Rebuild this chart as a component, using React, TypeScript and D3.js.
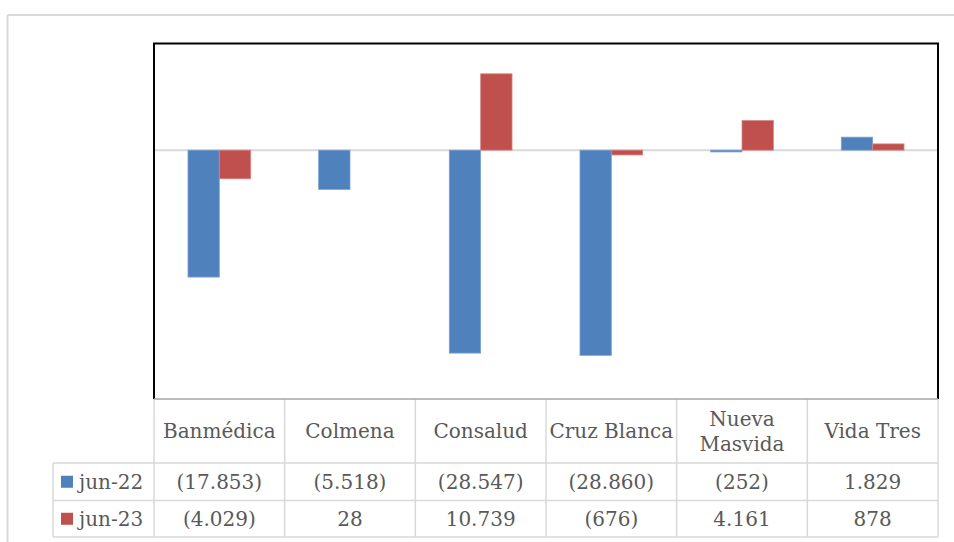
import * as d3 from 'd3'

const categories = ['Banmédica', 'Colmena', 'Consalud', 'Cruz Blanca', 'Nueva Masvida', 'Vida Tres']
const headerLines = [['Banmédica'], ['Colmena'], ['Consalud'], ['Cruz Blanca'], ['Nueva', 'Masvida'], ['Vida Tres']]
const series = ['jun-22', 'jun-23']
const jun22 = [-17853, -5518, -28547, -28860, -252, 1829]
const jun23 = [-4029, 28, 10739, -676, 4161, 878]
const jun22Labels = ['(17.853)', '(5.518)', '(28.547)', '(28.860)', '(252)', '1.829']
const jun23Labels = ['(4.029)', '28', '10.739', '(676)', '4.161', '878']
const colors = ['#4f81bd', '#c0504d']
const strokes = ['#7fa3d1', '#d88583']

export default function App() {
  const W = 954
  const H = 542
  const plot = { left: 154, right: 938, top: 43.5, bottom: 399 }
  const rows = [399, 463, 500.5, 537]
  const legendLeft = 53

  const x = d3.scaleBand<string>().domain(categories).range([plot.left, plot.right]).padding(0)
  const bw = x.bandwidth()
  const x1 = d3.scaleBand<string>().domain(series).range([bw * 0.26, bw * 0.74]).padding(0)
  const y = d3.scaleLinear().domain([-35000, 15000]).range([plot.bottom, plot.top])

  const values = [jun22, jun23]
  const labels = [jun22Labels, jun23Labels]
  const font = '"DejaVu Serif", serif'
  const fontSize = 20
  const textColor = '#595959'
  const grid = '#d9d9d9'

  return (
    <svg width={W} height={H} style={{ position: 'absolute', left: 0, top: 0 }}>
      <rect x={0} y={0} width={W} height={H} fill="#fff" />
      {/* outer chart frame, clipped at right/bottom */}
      <line x1={7.5} y1={15} x2={W} y2={15} stroke={grid} strokeWidth={2} />
      <line x1={7.5} y1={15} x2={7.5} y2={H} stroke={grid} strokeWidth={2} />

      {/* zero line */}
      <line x1={plot.left} x2={plot.right} y1={y(0)} y2={y(0)} stroke={grid} strokeWidth={2} />

      {series.map((s, si) => (
        <g key={s}>
          {categories.map((c, i) => {
            const v = values[si][i]
            const y0 = y(Math.max(0, v))
            const h = Math.abs(y(v) - y(0))
            if (h < 0.5) return null
            return (
              <rect
                key={c}
                x={(x(c) ?? 0) + (x1(s) ?? 0)}
                y={y0}
                width={x1.bandwidth()}
                height={h}
                fill={colors[si]}
                stroke={strokes[si]}
                strokeWidth={0.8}
              />
            )
          })}
        </g>
      ))}

      {/* plot border */}
      <path
        d={`M${plot.left},${plot.bottom} V${plot.top} H${plot.right} V${plot.bottom}`}
        fill="none"
        stroke="#000"
        strokeWidth={2}
      />

      {/* data table */}
      <g stroke={grid} strokeWidth={1.5}>
        <line x1={legendLeft} x2={plot.right} y1={rows[1]} y2={rows[1]} />
        <line x1={legendLeft} x2={plot.right} y1={rows[2]} y2={rows[2]} />
        <line x1={legendLeft} x2={plot.right} y1={rows[3]} y2={rows[3]} />
        <line x1={legendLeft} x2={legendLeft} y1={rows[1]} y2={rows[3]} />
        {categories.map((c) => (
          <line key={c} x1={x(c)} x2={x(c)} y1={rows[0]} y2={rows[3]} />
        ))}
        <line x1={plot.right} x2={plot.right} y1={rows[0]} y2={rows[3]} />
      </g>
      <line x1={plot.left} x2={plot.right} y1={rows[0]} y2={rows[0]} stroke="#a6a6a6" strokeWidth={1.5} />

      <g fontFamily={font} fontSize={fontSize} fill={textColor} textAnchor="middle">
        {categories.map((c, i) => {
          const lines = headerLines[i]
          const cy = (rows[0] + rows[1]) / 2
          return (
            <text key={c} x={(x(c) ?? 0) + bw / 2} y={cy} dominantBaseline="central">
              {lines.map((l, li) => (
                <tspan key={li} x={(x(c) ?? 0) + bw / 2} dy={li === 0 ? (lines.length - 1) * -12.5 : 25}>
                  {l}
                </tspan>
              ))}
            </text>
          )
        })}
        {series.map((s, si) =>
          categories.map((c, i) => (
            <text
              key={s + c}
              x={(x(c) ?? 0) + bw / 2}
              y={(rows[si + 1] + rows[si + 2]) / 2}
              dominantBaseline="central"
            >
              {labels[si][i]}
            </text>
          ))
        )}
      </g>

      {series.map((s, si) => {
        const cy = (rows[si + 1] + rows[si + 2]) / 2
        return (
          <g key={s}>
            <rect x={61} y={cy - 6} width={12} height={12} fill={colors[si]} />
            <text x={79} y={cy} dominantBaseline="central" fontFamily={font} fontSize={fontSize} fill={textColor}>
              {s}
            </text>
          </g>
        )
      })}
    </svg>
  )
}
